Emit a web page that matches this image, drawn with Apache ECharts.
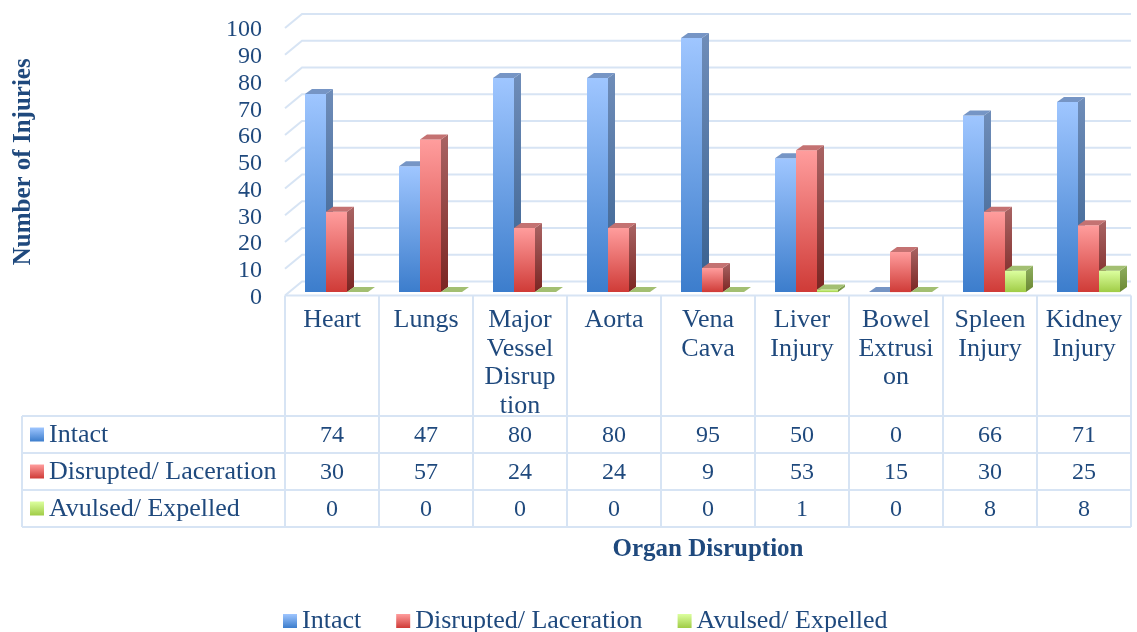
<!DOCTYPE html>
<html>
<head>
<meta charset="utf-8">
<style>html,body{margin:0;padding:0;background:#fff}#c{width:1137px;height:632px}</style>
<script src="https://cdn.jsdelivr.net/npm/echarts@6/dist/echarts.min.js"></script>
</head>
<body>
<div id="c"></div>
<script>
const categories = ['Heart','Lungs','Major\nVessel\nDisrup\ntion','Aorta','Vena\nCava','Liver\nInjury','Bowel\nExtrusi\non','Spleen\nInjury','Kidney\nInjury'];
const intact = [74,47,80,80,95,50,0,66,71];
const disrupted = [30,57,24,24,9,53,15,30,25];
const avulsed = [0,0,0,0,0,1,0,8,8];
const seriesNames = ['Intact','Disrupted/ Laceration','Avulsed/ Expelled'];
const yTicks = [0,10,20,30,40,50,60,70,80,90,100];

const FONT = 'Liberation Serif';
const FS = 26, NS = 24, BS = 25;
const INK = '#1f497d';
const LINE = '#d7e4f4';
const L = 285, T = 28, W = 846, H = 267.6;
const rowLines = [416,453,490,527];
const rowMid = [434.5,471.5,508.5];
const lg = (a,b)=>new echarts.graphic.LinearGradient(0,0,0,1,[{offset:0,color:a},{offset:1,color:b}]);
const palette = [
  {front:['#9fc6ff','#3c7dcc'], side:['#6f8db9','#38608f'], top:'#7695c5'},
  {front:['#ff9d9d','#cf3b37'], side:['#a96464','#7b2522'], top:'#c47272'},
  {front:['#dcff9f','#a0cc46'], side:['#8fae60','#6a8832'], top:'#a3bf72'}
];

function barRender(s){
  return function(params, api){
    const band = api.size([1,0])[0];
    const w = band*21/94, x = api.coord([api.value(0),0])[0]-band/2+band*20/94+s*w;
    const dx = 7, dy = 5, lift = 3.5;
    const y0 = api.coord([0,0])[1]-lift, y1 = api.coord([0,api.value(1)])[1]-lift;
    const p = palette[s], ch = [];
    if (y0-y1>0.5){
      ch.push({type:'polygon',shape:{points:[[x+w,y1],[x+w+dx,y1-dy],[x+w+dx,y0-dy],[x+w,y0]]},style:{fill:lg(p.side[0],p.side[1])}});
      ch.push({type:'rect',shape:{x:x,y:y1,width:w,height:y0-y1},style:{fill:lg(p.front[0],p.front[1])}});
    }
    ch.push({type:'polygon',shape:{points:[[x,y1],[x+dx,y1-dy],[x+w+dx,y1-dy],[x+w,y1]]},style:{fill:p.top}});
    return {type:'group',children:ch};
  };
}
function wallRender(params, api){
  const y = api.coord([0,api.value(1)])[1];
  return {type:'polyline',shape:{points:[[L,y],[L+17,y-14],[L+W,y-14]]},style:{fill:null,stroke:LINE,lineWidth:2}};
}
function cellRender(params, api){
  const x = api.coord([api.value(0),0])[0];
  return {type:'text',style:{text:String(api.value(2)),x:x,y:rowMid[api.value(3)]+1,align:'center',verticalAlign:'middle',fill:INK,font:NS+'px "'+FONT+'"'}};
}
const rows = [intact,disrupted,avulsed];
const cellData = [];
rows.forEach((r,ri)=>r.forEach((v,i)=>cellData.push([i,0,v,ri])));

const graphic = [];
const ln=(x1,y1,x2,y2)=>graphic.push({type:'line',silent:true,z:1,shape:{x1,y1,x2,y2},style:{stroke:LINE,lineWidth:2}});
ln(L,T+H,L+W,T+H);
rowLines.forEach(y=>ln(22,y,L+W,y));
ln(22,416,22,527);
for(let i=0;i<=categories.length;i++) ln(L+i*W/categories.length,T+H,L+i*W/categories.length,527);
seriesNames.forEach((n,s)=>{
  graphic.push({type:'rect',silent:true,z:3,shape:{x:30,y:rowMid[s]-7,width:14,height:14},style:{fill:lg(palette[s].front[0],palette[s].front[1])}});
  graphic.push({type:'text',silent:true,z:3,style:{text:n,x:49,y:rowMid[s]+1,verticalAlign:'middle',fill:INK,font:FS+'px "'+FONT+'"'}});
});

const chart = echarts.init(document.getElementById('c'),null,{renderer:'canvas'});
const vals = [intact,disrupted,avulsed];
chart.setOption({
  animation:false,
  backgroundColor:'#fff',
  textStyle:{fontFamily:FONT,color:INK},
  grid:{left:L,top:T,width:W,height:H,containLabel:false,outerBoundsMode:'none'},
  graphic,
  legend:{
    data:seriesNames, left:278, top:603, itemWidth:14, itemHeight:14, itemGap:35,
    icon:'rect', selectedMode:false,
    textStyle:{fontFamily:FONT,fontSize:FS,color:INK}
  },
  xAxis:{
    type:'category',data:categories,
    name:'Organ Disruption',nameLocation:'middle',nameGap:241,
    nameTextStyle:{fontFamily:FONT,fontSize:BS,fontWeight:'bold',color:INK},
    axisLine:{show:false},axisTick:{show:false},splitLine:{show:false},
    axisLabel:{interval:0,margin:10,fontFamily:FONT,fontSize:FS,color:INK,lineHeight:28.8,verticalAlign:'top',align:'center'}
  },
  yAxis:{
    type:'value',min:0,max:100,interval:10,
    name:'Number of Injuries',nameLocation:'middle',nameGap:249,nameRotate:90,
    nameTextStyle:{fontFamily:FONT,fontSize:BS,fontWeight:'bold',color:INK},
    axisLine:{show:false},axisTick:{show:false},splitLine:{show:false},
    axisLabel:{margin:23,formatter:'{n|{value}}',rich:{n:{fontFamily:FONT,fontSize:NS,color:INK,padding:[4,0,0,0]}}}
  },
  series:[
    {type:'custom',name:'wall',coordinateSystem:'cartesian2d',clip:false,silent:true,z:1,renderItem:wallRender,encode:{x:0,y:1},data:yTicks.map(v=>[0,v])},
    ...seriesNames.map((n,s)=>({
      type:'custom',name:n,coordinateSystem:'cartesian2d',clip:false,z:2,
      itemStyle:{color:lg(palette[s].front[0],palette[s].front[1])},
      renderItem:barRender(s),encode:{x:0,y:1},
      data:vals[s].map((v,i)=>[i,v])
    })),
    {type:'custom',name:'table',coordinateSystem:'cartesian2d',clip:false,silent:true,z:3,renderItem:cellRender,encode:{x:0,y:1},data:cellData}
  ]
});
</script>
</body>
</html>
